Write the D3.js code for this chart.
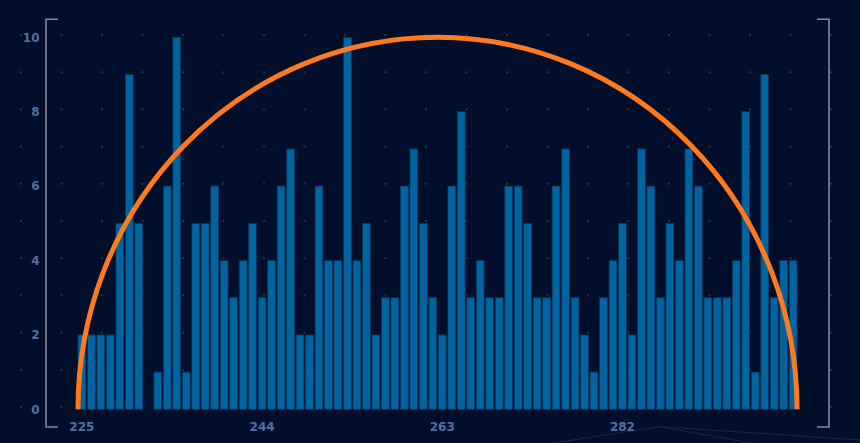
<!DOCTYPE html>
<html>
<head>
<meta charset="utf-8">
<script src="https://cdn.jsdelivr.net/npm/d3@7"></script>
<style>
  html, body { margin: 0; padding: 0; background: #020f2a; }
  svg { display: block; }
  .tick-label { font-family: "DejaVu Sans", sans-serif; font-weight: bold; font-size: 12px; fill: #536f9f; }
</style>
</head>
<body>
<svg id="chart" width="860" height="443"></svg>
<script>
// ---- data ----
const categories = d3.range(225, 301); // 225 .. 300
const counts = [
  2, 2, 2, 2, 5, 9, 5, 0, 1, 6,
  10, 1, 5, 5, 6, 4, 3, 4, 5, 3,
  4, 6, 7, 2, 2, 6, 4, 4, 10, 4,
  5, 2, 3, 3, 6, 7, 5, 3, 2, 6,
  8, 3, 4, 3, 3, 6, 6, 5, 3, 3,
  6, 7, 3, 2, 1, 3, 4, 5, 2, 7,
  6, 3, 5, 4, 7, 6, 3, 3, 3, 4,
  8, 1, 9, 3, 4, 4
];
const xTickLabels = [225, 244, 263, 282];
const yTickValues = [0, 2, 4, 6, 8, 10];
const arcPeak = 10;

// ---- layout ----
const W = 860, H = 443;
const svg = d3.select("#chart");

svg.append("rect").attr("width", W).attr("height", H).attr("fill", "#020f2a");

const x = d3.scaleBand()
  .domain(categories)
  .range([77.15, 797.9])
  .paddingInner(0.18)
  .paddingOuter(0.09);

const y = d3.scaleLinear().domain([0, 10]).range([409.3, 37.3]);

// dot grid background
const dotCols = d3.range(21);
const dotRows = d3.range(-1, 11);
const gDots = svg.append("g");
dotRows.forEach(r => {
  dotCols.forEach(c => {
    gDots.append("rect")
      .attr("x", 20 + c * 40.5)
      .attr("y", y(r) - 3.3)
      .attr("width", 2).attr("height", 2)
      .attr("fill", "#27314d");
  });
});

// faint decorative lines at the bottom
svg.append("polyline")
  .attr("points", "547,444 660,426.7 860,440")
  .attr("fill", "none").attr("stroke", "#1b2742").attr("stroke-width", 1);
svg.append("line")
  .attr("x1", 660).attr("y1", 426.7).attr("x2", 757).attr("y2", 444)
  .attr("stroke", "#1b2742").attr("stroke-width", 1);

// bars
svg.append("g").selectAll("rect")
  .data(categories.map((c, i) => ({ c, v: counts[i] })).filter(d => d.v > 0))
  .join("rect")
  .attr("x", d => x(d.c))
  .attr("y", d => y(d.v))
  .attr("width", x.bandwidth())
  .attr("height", d => y(0) - y(d.v))
  .attr("fill", "#0064a0")
  .attr("stroke", "#063561")
  .attr("stroke-width", 0.8);

// orange half-ellipse
const ax0 = x(categories[0]);
const ax1 = x(categories[categories.length - 1]) + x.bandwidth();
const rx = (ax1 - ax0) / 2;
const ry = y(0) - y(arcPeak);
svg.append("path")
  .attr("d", `M${ax0},${y(0)} A${rx},${ry} 0 0 1 ${ax1},${y(0)}`)
  .attr("fill", "none")
  .attr("stroke", "#ff7a1f")
  .attr("stroke-width", 5);

// brackets
const bTop = 19.3, bBot = 427;
svg.append("path")
  .attr("d", `M58,${bTop} H46 V${bBot} H58`)
  .attr("fill", "none").attr("stroke", "#858a99").attr("stroke-width", 1.6);
svg.append("path")
  .attr("d", `M817,${bTop} H829 V${bBot} H817`)
  .attr("fill", "none").attr("stroke", "#858a99").attr("stroke-width", 1.6);

// y tick labels
svg.append("g").selectAll("text")
  .data(yTickValues)
  .join("text")
  .attr("class", "tick-label")
  .attr("x", 39.5)
  .attr("y", d => y(d))
  .attr("dy", "0.36em")
  .attr("text-anchor", "end")
  .text(d => d);

// x tick labels
svg.append("g").selectAll("text")
  .data(xTickLabels)
  .join("text")
  .attr("class", "tick-label")
  .attr("x", d => x(d) + x.bandwidth() / 2)
  .attr("y", 426.5)
  .attr("dy", "0.36em")
  .attr("text-anchor", "middle")
  .text(d => d);
</script>
</body>
</html>
